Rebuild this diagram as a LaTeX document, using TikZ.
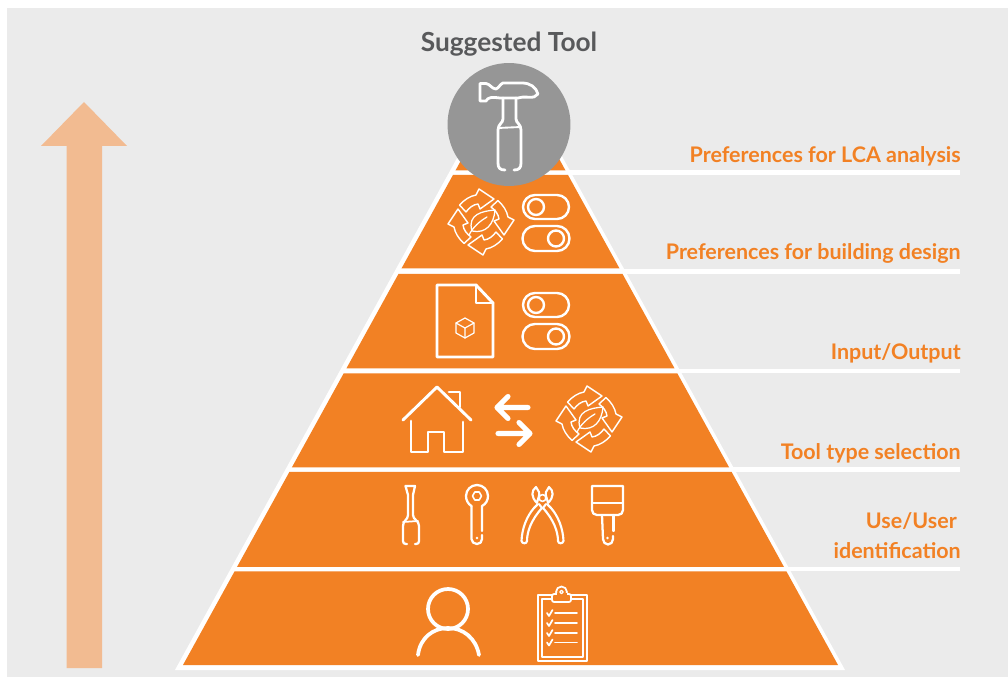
\documentclass[tikz,border=0pt]{standalone}
\usepackage{fontspec}
\setmainfont{Lato}
\usetikzlibrary{calc}
\definecolor{bgc}{HTML}{EBEBEB}
\definecolor{org}{HTML}{F28124}
\definecolor{arr}{HTML}{F2BB91}
\definecolor{gry}{HTML}{969696}
\definecolor{ttl}{HTML}{58595B}
\tikzset{
  ico/.style={draw=white,line width=1.8pt,line join=round,line cap=round},
  thinico/.style={draw=white,line width=0.9pt,line join=round,line cap=round},
  boldico/.style={draw=white,line width=3.8pt,line join=round,line cap=round},
  band/.style={fill=org,draw=none},
  lvl/.style={draw=white,line width=3.4pt},
  lbl/.style={anchor=base east,inner sep=0pt,text=org,font=\fontsize{16.1}{19}\selectfont\bfseries},
  pics/recyc/.style={code={
    \foreach \r in {0,90,180,270}{
      \draw[ico,line width=1.05pt,rotate=\r] (-21.5,-17) .. controls (-17,-22) and (-11,-26) .. (-5,-27)
        -- (-2,-33) -- (13,-23) -- (-1,-13) -- (-3,-18) .. controls (-8,-17.5) and (-12,-14) .. (-15,-10) -- cycle;
    }
    \draw[ico,line width=0.95pt] (-9,9) .. controls (-14,-8) and (2,-11) .. (14,-12) .. controls (13,2) and (5,12) .. (-9,9) -- cycle;
    \draw[ico,line width=0.95pt] (-12,13) .. controls (-8,5) and (-1,-1) .. (6,-5);
  }},
  pics/toggles/.style={code={
    \draw[ico] (535,195) -- (557,195) arc (-90:90:12) -- (535,219) arc (90:270:12) -- cycle;
    \draw[ico] (536,207) circle (8);
    \draw[ico] (535,226) -- (557,226) arc (-90:90:12.5) -- (535,251) arc (90:270:12.5) -- cycle;
    \draw[ico] (556,238.5) circle (8);
  }}
}
\begin{document}
\begin{tikzpicture}[x=0.75pt,y=-0.75pt]
\useasboundingbox (0,0) rectangle (1008,677);
\fill[white] (0,0) rectangle (1008,677);
\fill[bgc] (7,8) rectangle (1008,677);
% upward arrow
\fill[arr] (66.5,668) -- (66.5,146) -- (41,146) -- (84,102) -- (127,146) -- (102,146) -- (102,668) -- cycle;
% level lines
\coordinate (l1a) at (540,172.5); \coordinate (l1b) at (960,172.5);
\coordinate (l2a) at (600,271.5); \coordinate (l2b) at (960,271.5);
\coordinate (l3a) at (660,371); \coordinate (l3b) at (960,371);
\coordinate (l4a) at (710,469.5); \coordinate (l4b) at (960,469.5);
\coordinate (l5a) at (770,569); \coordinate (l5b) at (960,569);
\foreach \a/\b in {l1a/l1b,l2a/l2b,l3a/l3b,l4a/l4b,l5a/l5b}{\draw[lvl] (\a) -- (\b);}
% pyramid white
\fill[white] (175,670) -- (467,140) -- (553,140) -- (845,670) -- cycle;
\newcommand{\bandat}[2]{%
  \fill[band] ({183+0.551*(665-#1)},#1) -- ({838-0.551*(665-#1)},#1) -- ({838-0.551*(665-#2)},#2) -- ({183+0.551*(665-#2)},#2) -- cycle;}
\bandat{140}{170.5}
\bandat{175}{268.5}
\bandat{274}{368.5}
\bandat{373.5}{467.5}
\bandat{472}{567}
\bandat{571.5}{665}
% circle
\node[circle,fill=gry,minimum size=92.2pt,inner sep=0pt] (top) at (509,124.5) {};
% hammer
\draw[ico,line width=2.1pt] (480,83.5) -- (480,101) -- (486,101) .. controls (488,97) and (492,97) .. (500,98)
  -- (518,98) .. controls (524,96) and (530,98) .. (534,97) -- (538,94) .. controls (536,87) and (530,83) .. (522,83)
  -- (503,83) .. controls (500,84) and (499,88) .. (496,89) .. controls (492,89) and (490,84) .. (486,83.5) -- cycle;
\draw[ico,line width=2.1pt] (503,98) -- (503,119) .. controls (503,123) and (498,124) .. (498,130) -- (498,163) .. controls (498,168) and (500,170) .. (505,170);
\draw[ico,line width=2.1pt] (516,98) -- (516,119) .. controls (516,123) and (521,124) .. (521,130) -- (521,163) .. controls (521,168) and (519,170) .. (514,170);
\draw[ico,line width=1.4pt] (498,128) -- (521,127);
% toggles
\pic at (0,0) {toggles};
\pic at (0,98) {toggles};
% recycling
\pic at (481,222) {recyc};
\pic at (589,419) {recyc};
% file
\draw[ico,line width=2.2pt] (437,285) -- (476,285) -- (493,303) -- (493,357) -- (437,357) -- cycle;
\draw[ico,line width=2.2pt] (476,285) -- (476,303) -- (493,303);
\draw[thinico] (465,318) -- (474,323) -- (474,333) -- (465,338) -- (456,333) -- (456,323) -- cycle;
\draw[thinico] (456,323) -- (465,328) -- (474,323) (465,328) -- (465,338);
% house
\draw[ico,line width=2.2pt] (403,420) -- (437,387) -- (471,420);
\draw[ico,line width=2.2pt] (449,392) -- (460,392) -- (460,407);
\draw[ico,line width=2.2pt] (411,421) -- (411,452) -- (428,452) -- (428,432) -- (444,432) -- (444,452) -- (463,452) -- (463,422);
% exchange arrows
\draw[boldico] (528,407.5) -- (498,407.5) (508,396.5) -- (497,407.5) -- (508,418.5);
\draw[boldico] (498,433.5) -- (530,433.5) (519,422.5) -- (530,433.5) -- (519,444.5);
% screwdriver
\draw[ico,line width=1.7pt] (407,544) -- (406,544) .. controls (404,544) and (403,543) .. (403,541) -- (403,526) .. controls (403,520) and (408,520) .. (408,515) -- (408,495) -- (405.5,486) -- (415,486) -- (413,495) -- (413,515) .. controls (413,520) and (419,520) .. (419,526) -- (419,541) .. controls (419,543) and (418,544) .. (416,544) -- (415,544);
\draw[ico,line width=1.3pt] (403,522) -- (418,521);
% wrench
\draw[ico,line width=1.7pt] (471.5,506) -- (471.5,539) .. controls (471.5,542) and (474,544) .. (477,544) .. controls (480,544) and (482,542) .. (482,539) -- (482,535);
\draw[ico,line width=1.7pt] (482,531) -- (482,506) .. controls (486,504) and (488,500) .. (488,496) arc (0:-180:11) .. controls (466,500) and (468,504) .. (471.5,506);
\draw[thinico,line width=1.2pt] (481.5,496) -- (479.2,500) -- (474.8,500) -- (472.5,496) -- (474.8,492) -- (479.2,492) -- cycle;
\fill[white] (477,538) circle (1.4);
% pliers
\draw[ico,line width=1.6pt] (536,487) .. controls (531,491) and (531,497) .. (537,503) .. controls (538,498) and (540,495) .. (539,492) .. controls (538,490) and (537,489) .. (536,487) -- cycle;
\draw[ico,line width=1.6pt] (549,487) .. controls (554,491) and (554,497) .. (548,503) .. controls (547,498) and (545,495) .. (546,492) .. controls (547,490) and (548,489) .. (549,487) -- cycle;
\draw[ico,line width=1.2pt] (542.5,498) circle (3.4);
\draw[ico,line width=1.6pt] (537,505) -- (534,508) .. controls (527,516) and (522,528) .. (521.5,541) .. controls (522,544) and (527,544) .. (527,541) .. controls (527,532) and (531,520) .. (542,508) -- (539,504);
\draw[ico,line width=1.6pt] (548,505) -- (551,508) .. controls (558,516) and (563,528) .. (563.5,541) .. controls (563,544) and (558,544) .. (558,541) .. controls (558,532) and (554,520) .. (543,508) -- (546,504);
% brush
\draw[ico,line width=1.7pt] (592,486) -- (623,486) -- (623,510) .. controls (623,513) and (621,515) .. (618,515) -- (597,515) .. controls (594,515) and (592,513) .. (592,510) -- cycle;
\draw[ico,line width=1.3pt] (592,503) -- (623,503);
\draw[ico,line width=1.7pt] (602,515) -- (603,539) .. controls (603,542) and (605,544.5) .. (608,544.5) .. controls (611,544.5) and (613,542) .. (613,539) -- (613,536);
\draw[ico,line width=1.7pt] (613.5,531) -- (613.5,515);
\fill[white] (607.5,538) circle (1.4);
% person
\draw[boldico,line width=2.8pt] (448,609) circle (20);
\draw[boldico,line width=2.8pt] (418,655) .. controls (420,638) and (433,628) .. (448,628) .. controls (463,628) and (476,638) .. (479,655);
% clipboard
\draw[ico,line width=1.3pt] (538,595) rectangle (587,661);
\draw[ico,line width=1.3pt] (542,599) rectangle (583,657);
\draw[ico,line width=1.3pt,fill=org] (561.5,592) circle (5.5);
\draw[ico,line width=1.3pt,fill=org,rounded corners=1.5pt] (552,594) rectangle (571,602);
\fill[org] (556.5,593) rectangle (566.5,596);
\draw[ico,line width=0.9pt] (561.5,592) circle (1.8);
\foreach \y in {613,623,633,642.5}{
  \draw[ico,line width=1.2pt] (555,\y) -- (577,\y);
  \draw[ico,line width=1.3pt] (547,\y) -- (549,{\y+3}) -- (552.5,{\y-3});
}
% labels
\node[anchor=base,inner sep=0pt,text=ttl,font=\fontsize{19.7}{23}\selectfont\bfseries] (title) at (509,52) {Suggested Tool};
\node[lbl] (t1) at (961,163) {Preferences for LCA analysis};
\node[lbl] (t2) at (961,260) {Preferences for building design};
\node[lbl] (t3) at (961,359.5) {Input/Output};
\node[lbl] (t4) at (961,459.5) {Tool type selection};
\node[lbl] (t5) at (957,528) {Use/User};
\node[lbl] (t6) at (961,558) {identification};
\end{tikzpicture}
\end{document}
